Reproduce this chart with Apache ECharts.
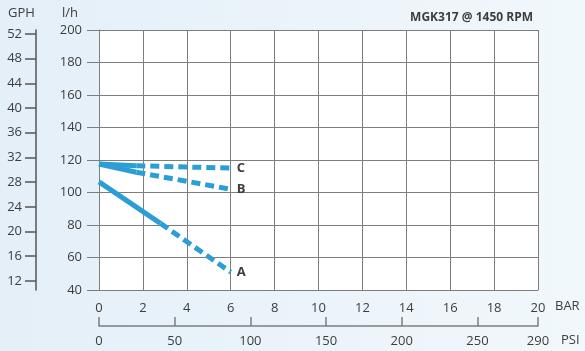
<!DOCTYPE html>
<html>
<head>
<meta charset="utf-8">
<script src="https://cdn.jsdelivr.net/npm/echarts@6/dist/echarts.min.js"></script>
<style>
  html, body { margin: 0; padding: 0; }
  #chart { width: 585px; height: 351px; }
</style>
</head>
<body>
<div id="chart"></div>
<script>
// Pump curves for MGK317 at 1450 RPM: flow (l/h) against pressure (bar)
var title = 'MGK317 @ 1450 RPM';

// Pressure scales
var barTicks = [0, 2, 4, 6, 8, 10, 12, 14, 16, 18, 20];
var psiTicks = [0, 50, 100, 150, 200, 250, 290];

// Flow scales
var flowTicks = [40, 60, 80, 100, 120, 140, 160, 180, 200];
var gphTicks = [12, 16, 20, 24, 28, 32, 36, 40, 44, 48, 52];
var lphPerGph = 3.8;

// Curves: [bar, l/h]; the solid part runs into a dashed part
var curveA_solid = [[0, 106.5], [2.8, 81]];
var curveA_dashed = [[2.8, 81], [6, 51]];
var curveB_solid = [[0, 117.5], [1.7, 112.5]];
var curveB_dashed = [[1.7, 112.5], [6, 102]];
var curveC_solid = [[0, 117.5], [1.7, 116.5]];
var curveC_dashed = [[1.7, 116.5], [6, 115]];

var curveColor = '#2b9fd5';
var gridColor = '#7d7d7d';
var textColor = '#3d3d3d';
var fontFamily = '"Open Sans", "Noto Sans", sans-serif';

function solid(data) {
  return {
    type: 'line', data: data, symbol: 'none', silent: true,
    lineStyle: { color: curveColor, width: 5, cap: 'butt' }, z: 5
  };
}
function dashed(data, name) {
  return {
    type: 'line', data: data, symbol: 'none', silent: true,
    lineStyle: { color: curveColor, width: 5, type: [9, 5], cap: 'butt' }, z: 5,
    endLabel: {
      show: true, formatter: name, distance: 6,
      color: textColor, fontFamily: fontFamily, fontSize: 13, fontWeight: 'bold'
    }
  };
}

var chart = echarts.init(document.getElementById('chart'), null, { renderer: 'canvas' });
chart.setOption({
  animation: false,
  backgroundColor: {
    type: 'linear', x: 0, y: 0, x2: 1, y2: 0,
    colorStops: [{ offset: 0, color: '#e4eff8' }, { offset: 1, color: '#f1f8fc' }]
  },
  title: {
    text: title, right: 47, top: 7,
    textStyle: { color: textColor, fontFamily: fontFamily, fontSize: 12, fontWeight: 'bold' }
  },
  grid: {
    left: 99, right: 47, top: 30, bottom: 61,
    show: true, backgroundColor: '#ffffff', borderWidth: 0
  },
  xAxis: [
    {
      type: 'value', min: barTicks[0], max: barTicks[barTicks.length - 1], interval: 2,
      position: 'bottom',
      axisLine: { show: true, onZero: false, lineStyle: { color: gridColor, width: 1 } },
      axisTick: { show: false },
      splitLine: { show: true, lineStyle: { color: gridColor, width: 1 } },
      axisLabel: {
        customValues: barTicks, margin: 12,
        color: textColor, fontFamily: fontFamily, fontSize: 13
      }
    },
    {
      type: 'value', min: 0, max: 290, position: 'bottom', offset: 36,
      axisLine: { show: true, onZero: false, lineStyle: { color: gridColor, width: 1.5 } },
      axisTick: { show: true, inside: true, length: 9, customValues: psiTicks,
        lineStyle: { color: gridColor, width: 1.5 } },
      splitLine: { show: false },
      axisLabel: {
        customValues: psiTicks, margin: 9,
        color: textColor, fontFamily: fontFamily, fontSize: 13
      }
    }
  ],
  yAxis: [
    {
      type: 'value', min: flowTicks[0], max: flowTicks[flowTicks.length - 1], interval: 20,
      position: 'left',
      axisLine: { show: true, onZero: false, lineStyle: { color: gridColor, width: 1 } },
      axisTick: { show: true, length: 12, lineStyle: { color: gridColor, width: 1 } },
      splitLine: { show: true, lineStyle: { color: gridColor, width: 1 } },
      axisLabel: {
        customValues: flowTicks, margin: 17,
        color: textColor, fontFamily: fontFamily, fontSize: 13
      }
    },
    {
      type: 'value', min: flowTicks[0] / lphPerGph, max: flowTicks[flowTicks.length - 1] / lphPerGph,
      position: 'left', offset: 63,
      axisLine: { show: true, onZero: false, lineStyle: { color: '#555555', width: 1.5 } },
      axisTick: { show: true, length: 11, customValues: gphTicks,
        lineStyle: { color: '#555555', width: 1.5 } },
      splitLine: { show: false },
      axisLabel: {
        customValues: gphTicks, margin: 14,
        color: textColor, fontFamily: fontFamily, fontSize: 13
      }
    }
  ],
  graphic: [
    { type: 'text', left: 8, top: 7,
      style: { text: 'GPH', fill: textColor, font: '13px ' + fontFamily } },
    { type: 'text', left: 62, top: 7,
      style: { text: 'l/h', fill: textColor, font: '13px ' + fontFamily } },
    { type: 'text', left: 555, top: 300,
      style: { text: 'BAR', fill: textColor, font: '13px ' + fontFamily } },
    { type: 'text', left: 561, top: 334,
      style: { text: 'PSI', fill: textColor, font: '13px ' + fontFamily } }
  ],
  series: [
    solid(curveA_solid), dashed(curveA_dashed, 'A'),
    solid(curveB_solid), dashed(curveB_dashed, 'B'),
    solid(curveC_solid), dashed(curveC_dashed, 'C')
  ]
});
</script>
</body>
</html>
